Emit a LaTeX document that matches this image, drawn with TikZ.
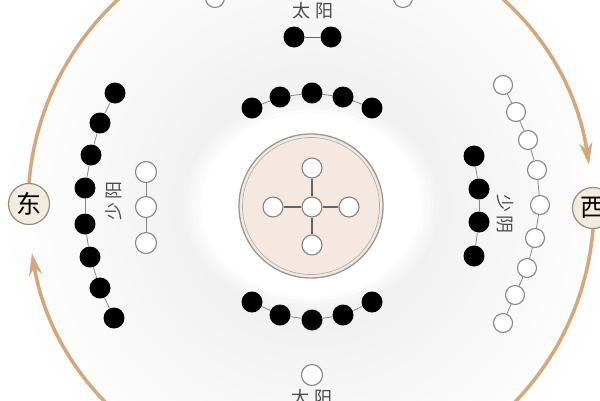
\documentclass[tikz,border=0pt]{standalone}
\usepackage{fontspec}
\newfontfamily\cjk{Noto Sans CJK SC}
\usetikzlibrary{arrows.meta}
\definecolor{bggray}{RGB}{232,232,232}
\definecolor{arccol}{RGB}{210,168,124}
\definecolor{peach}{RGB}{244,232,224}
\definecolor{ringcol}{RGB}{150,150,150}
\definecolor{chaingray}{RGB}{135,135,135}
\definecolor{crossgray}{RGB}{100,100,100}
\definecolor{cream}{RGB}{242,236,224}
\definecolor{dirline}{RGB}{150,140,125}
\definecolor{lblcol}{RGB}{75,75,75}
\begin{document}
\begin{tikzpicture}[x=1pt,y=-1pt,
  blk/.style={circle,fill=black,minimum size=21pt,inner sep=0pt},
  wht/.style={circle,fill=white,draw=chaingray,line width=1.1pt,minimum size=19pt,inner sep=0pt},
  crs/.style={circle,fill=white,draw=crossgray!80,line width=1.1pt,minimum size=20pt,inner sep=0pt},
  link/.style={draw=chaingray,line width=0.8pt},
  crosslink/.style={draw=crossgray,line width=1.4pt},
  dirnode/.style={circle,draw=dirline,fill=cream,line width=1.2pt,minimum size=41pt,inner sep=0pt,font=\cjk\fontsize{25}{25}\selectfont},
  lbl/.style={font=\cjk\fontsize{18}{18}\selectfont,text=lblcol,inner sep=0pt},
  flow/.style={draw=arccol,line width=3.5pt,-{Stealth[length=22pt,width=13pt,inset=7pt]}}
]
\useasboundingbox (0,0) rectangle (600,400);
\clip (0,0) rectangle (600,400);
\fill[white] (0,0) rectangle (600,400);
\shade[inner color=bggray,outer color=white] (311,206) circle[radius=310];
\foreach \a/\o in {1.16/0.15,1.12/0.25,1.08/0.35,1.04/0.5}
  \fill[white,opacity=\o] (311,205) ellipse[x radius=110*\a, y radius=92*\a];
\fill[white] (311,205) ellipse[x radius=110, y radius=92];

% centre disc
\node[circle,draw=ringcol,line width=1.3pt,fill=peach,minimum size=144pt,inner sep=0pt] (core) at (311,206) {};
\draw[ringcol!75,line width=0.7pt] (core.center) circle[radius=68.5];

% cross
\node[crs] (c0) at (312,207) {};
\node[crs] (cN) at (312,168) {};
\node[crs] (cS) at (312,245) {};
\node[crs] (cW) at (273,207) {};
\node[crs] (cE) at (349,207) {};
\foreach \t in {cN,cS,cW,cE} \draw[crosslink] (c0) -- (\t);

% top pair
\node[blk] (T1) at (294,37) {};
\node[blk] (T2) at (331,37) {};
\draw[link,draw=crossgray] (T1) -- (T2);
\node[lbl] (ttop) at (313,11) {太\hspace{5pt}阳};
\node[wht] (P1) at (215,-2) {};
\node[wht] (P2) at (403,-2) {};

% inner top arc
\foreach \i/\x/\y in {1/252/108,2/280/97,3/312/93,4/343/97,5/372/108}
  \node[blk] (U\i) at (\x,\y) {};
\foreach \a/\b in {1/2,2/3,3/4,4/5} \draw[link] (U\a) -- (U\b);

% inner bottom arc
\foreach \i/\x/\y in {1/252/302,2/280/315,3/312/320,4/343/315,5/372/302}
  \node[blk] (D\i) at (\x,\y) {};
\foreach \a/\b in {1/2,2/3,3/4,4/5} \draw[link] (D\a) -- (D\b);

% bottom
\node[wht,minimum size=21pt] (B1) at (312,375) {};
\node[lbl] (tbot) at (312,398) {太\hspace{5pt}阳};

% left
\foreach \i/\x/\y in {1/115/93,2/100/123,3/91/155,4/85/188,5/85/224,6/90/257,7/100/288,8/114/318}
  \node[blk] (L\i) at (\x,\y) {};
\foreach \a/\b in {1/2,2/3,3/4,4/5,5/6,6/7,7/8} \draw[link] (L\a) -- (L\b);
\foreach \i/\y in {1/172,2/207,3/243}
  \node[wht,minimum size=21pt] (LW\i) at (146,\y) {};
\foreach \a/\b in {1/2,2/3} \draw[link] (LW\a) -- (LW\b);
\node[lbl,rotate=90] (tleft) at (114,201) {少\hspace{3pt}阳};

% right
\foreach \i/\x/\y in {1/474/156,2/479/189,3/479/222,4/474/256}
  \node[blk] (R\i) at (\x,\y) {};
\foreach \a/\b in {1/2,2/3,3/4} \draw[link] (R\a) -- (R\b);
\foreach \i/\x/\y in {1/503/85,2/516/112,3/528/140,4/537/170,5/540/205,6/535/238,7/527/268,8/515/295,9/503/323}
  \node[wht] (RW\i) at (\x,\y) {};
\foreach \a/\b in {1/2,2/3,3/4,4/5,5/6,6/7,7/8,8/9} \draw[link] (RW\a) -- (RW\b);
\node[lbl,rotate=-90] (tright) at (505,214) {少\hspace{3pt}阴};

% east / west
\node[dirnode] (dong) at (29,204) {东};
\node[dirnode] (xi) at (593,208) {西};
\draw[flow] (dong.north) arc[start angle=184.7, end angle=351.6, radius=282];
\draw[flow] (xi.south) arc[start angle=4.7, end angle=170.4, radius=283];
\end{tikzpicture}
\end{document}
